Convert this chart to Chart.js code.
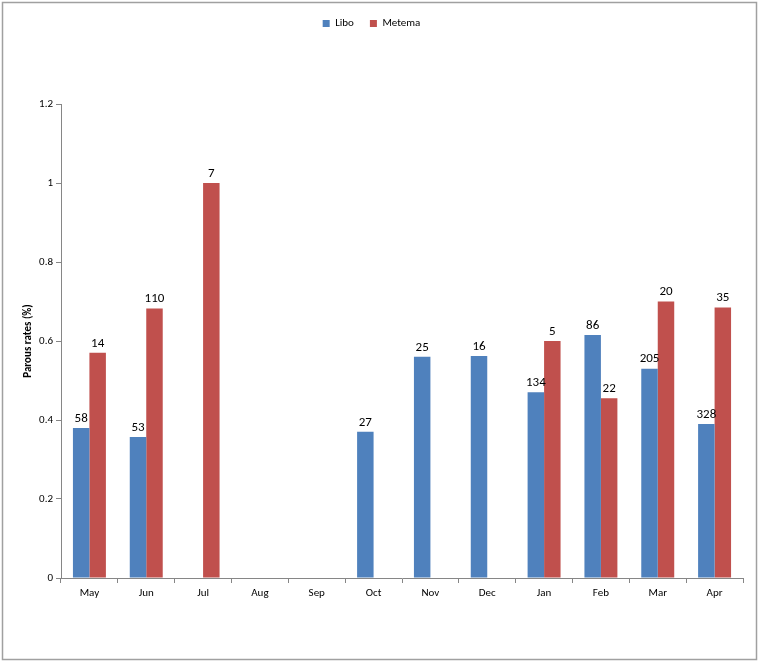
<!DOCTYPE html>
<html>
<head>
<meta charset="utf-8">
<script src="https://cdn.jsdelivr.net/npm/chart.js@4/dist/chart.umd.min.js"></script>
<style>
  html, body { margin: 0; padding: 0; background: #fff; }
  #wrap { position: relative; width: 759px; height: 663px; }
</style>
</head>
<body>
<div id="wrap"><canvas id="grafico"></canvas></div>
<script>
// Meses e taxas de paridade
const meses = ['May', 'Jun', 'Jul', 'Aug', 'Sep', 'Oct', 'Nov', 'Dec', 'Jan', 'Feb', 'Mar', 'Apr'];
const taxaLibo = [0.38, 0.357, null, null, null, 0.37, 0.56, 0.562, 0.47, 0.615, 0.53, 0.39];
const taxaMetema = [0.57, 0.682, 1.0, null, null, null, null, null, 0.6, 0.455, 0.70, 0.685];
// Número de amostras mostrado acima de cada barra
const nLibo = [58, 53, null, null, null, 27, 25, 16, 134, 86, 205, 328];
const nMetema = [14, 110, 7, null, null, null, null, null, 5, 22, 20, 35];
const yTicks = [0, 0.2, 0.4, 0.6, 0.8, 1, 1.2];

const fonte = 'Carlito, Lato, "Liberation Sans", sans-serif';
const corEixo = '#868686';

// moldura externa
const moldura = {
  id: 'moldura',
  beforeDraw(chart) {
    const ctx = chart.ctx;
    ctx.save();
    ctx.strokeStyle = '#a0a0a0';
    ctx.lineWidth = 1.5;
    ctx.strokeRect(2.5, 2.5, chart.width - 5, chart.height - 6);
    ctx.restore();
  }
};

// rótulos com o número de amostras
const rotulos = {
  id: 'rotulos',
  afterDatasetsDraw(chart) {
    const ctx = chart.ctx;
    const listas = [nLibo, nMetema];
    ctx.save();
    ctx.font = '13px ' + fonte;
    ctx.fillStyle = '#000';
    ctx.textAlign = 'center';
    ctx.textBaseline = 'bottom';
    listas.forEach((lista, i) => {
      chart.getDatasetMeta(i).data.forEach((barra, j) => {
        if (lista[j] == null || chart.data.datasets[i].data[j] == null) return;
        ctx.fillText(String(lista[j]), barra.x, barra.y - 3);
      });
    });
    ctx.restore();
  }
};

// espaço extra abaixo da legenda
const alturaLegenda = {
  id: 'alturaLegenda',
  beforeInit(chart) {
    const fitOriginal = chart.legend.fit;
    chart.legend.fit = function () {
      fitOriginal.bind(chart.legend)();
      this.height = 102;
    };
  }
};

new Chart(document.getElementById('grafico'), {
  type: 'bar',
  data: {
    labels: meses,
    datasets: [
      { label: 'Libo', data: taxaLibo, backgroundColor: '#4f81bd' },
      { label: 'Metema', data: taxaMetema, backgroundColor: '#c0504d' }
    ]
  },
  options: {
    responsive: true,
    maintainAspectRatio: false,
    animation: false,
    datasets: { bar: { categoryPercentage: 0.58, barPercentage: 1 } },
    layout: { padding: { left: 0, right: 16, top: 2, bottom: 0 } },
    plugins: {
      tooltip: { enabled: false },
      legend: {
        position: 'top',
        labels: {
          boxWidth: 7, boxHeight: 7, padding: 16,
          color: '#000', font: { family: fonte, size: 11 }
        }
      }
    },
    scales: {
      x: {
        grid: { drawOnChartArea: false, tickLength: 5, color: corEixo },
        border: { color: corEixo },
        ticks: { color: '#000', padding: 4, font: { family: fonte, size: 11 } },
        afterFit: s => { s.height = 85; }
      },
      y: {
        min: 0, max: 1.2,
        afterBuildTicks: s => { s.ticks = yTicks.map(v => ({ value: v })); },
        grid: { drawOnChartArea: false, tickLength: 5, color: corEixo },
        border: { color: corEixo },
        ticks: {
          color: '#000', padding: 3, font: { family: fonte, size: 11 },
          callback: v => String(v)
        },
        title: {
          display: true, text: 'Parous rates (%)', color: '#000',
          font: { family: fonte, size: 11, weight: 'bold' },
          padding: { top: 22, bottom: 0 }
        },
        afterFit: s => { s.width = 61; }
      }
    }
  },
  plugins: [moldura, rotulos, alturaLegenda]
});
</script>
</body>
</html>
